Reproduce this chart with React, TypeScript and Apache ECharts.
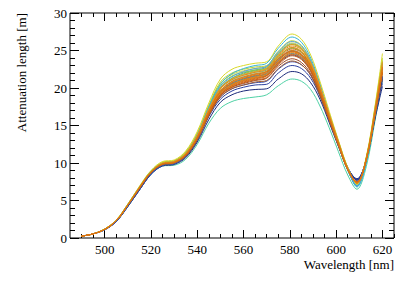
import React, { useEffect, useRef } from "react";
import * as echarts from "echarts";

const wavelengths = [490, 495, 500, 505, 510, 515, 520, 525, 530, 535, 540, 545, 550, 555, 560, 565, 570, 575, 581, 585, 589, 593, 597, 601, 605, 609, 613, 617, 620];

const xMajorTicks = [500, 520, 540, 560, 580, 600, 620];
const xMinorTicks = [490, 495, 505, 510, 515, 525, 530, 535, 545, 550, 555, 565, 570, 575, 585, 590, 595, 605, 610, 615, 625];

const seriesColors = [
  "#4fd1a5", "#1c2a7a", "#2c3f9e", "#3a53b8", "#9c4a25", "#a05a2c", "#22318a", "#2a3f96",
  "#3b8fd0", "#45c4a8", "#2fa8c8", "#8ccc4a", "#c6d640", "#b8d23a", "#35b5d5", "#d9d92b", "#5aa0d8", "#7ec850", "#41a9d4",
  "#c95c12", "#d86a10", "#e07b10", "#e8900f", "#e58a1a", "#d4701a", "#e98612", "#e39a22", "#cf6414", "#dc7614",
];

const seriesValues: number[][] = [
  [0.25, 0.55, 1.1, 2.2, 4.2, 6.4, 8.5, 9.6, 9.7, 10.5, 12.5, 15.3, 17.3, 18.2, 18.6, 18.8, 19.1, 20.3, 21.2, 20.9, 19.8, 17.6, 14.7, 11.5, 8.4, 6.5, 9.5, 16.0, 21.0],
  [0.25, 0.55, 1.1, 2.2, 4.2, 6.4, 8.5, 9.6, 9.8, 10.7, 12.8, 15.8, 18.1, 19.1, 19.6, 19.8, 19.9, 21.2, 22.2, 21.9, 20.7, 18.5, 15.4, 12.2, 9.3, 7.9, 10.3, 16.2, 20.2],
  [0.25, 0.55, 1.1, 2.2, 4.2, 6.4, 8.5, 9.7, 9.9, 10.8, 13.0, 16.2, 18.5, 19.6, 20.1, 20.4, 20.5, 22.0, 23.0, 22.6, 21.3, 18.9, 15.6, 12.3, 9.3, 7.8, 10.4, 16.5, 20.6],
  [0.25, 0.55, 1.1, 2.2, 4.3, 6.5, 8.6, 9.7, 9.9, 10.9, 13.1, 16.4, 18.8, 19.9, 20.4, 20.7, 20.9, 22.5, 23.5, 23.1, 21.7, 19.1, 15.8, 12.4, 9.3, 7.7, 10.4, 16.7, 21.0],
  [0.25, 0.55, 1.15, 2.3, 4.4, 6.6, 8.7, 9.8, 10.0, 11.0, 13.2, 16.5, 19.0, 20.1, 20.6, 21.0, 21.3, 22.9, 23.9, 23.4, 21.9, 19.2, 15.8, 12.3, 9.1, 7.4, 10.3, 16.8, 21.5],
  [0.25, 0.55, 1.15, 2.3, 4.4, 6.6, 8.7, 9.8, 10.0, 10.9, 13.1, 16.3, 18.8, 19.9, 20.4, 20.8, 21.0, 22.6, 23.6, 23.1, 21.7, 19.0, 15.7, 12.3, 9.1, 7.5, 10.3, 16.7, 21.2],
  [0.25, 0.55, 1.15, 2.3, 4.4, 6.6, 8.7, 9.8, 10.0, 11.0, 13.3, 16.7, 19.4, 20.6, 21.2, 21.6, 21.9, 23.7, 24.9, 24.4, 22.7, 19.8, 16.2, 12.7, 9.4, 7.7, 10.5, 16.9, 21.6],
  [0.25, 0.55, 1.15, 2.3, 4.4, 6.6, 8.7, 9.8, 10.0, 11.0, 13.2, 16.6, 19.2, 20.4, 21.0, 21.4, 21.7, 23.3, 24.4, 23.9, 22.3, 19.5, 16.0, 12.6, 9.4, 7.8, 10.5, 16.8, 21.3],
  [0.25, 0.55, 1.15, 2.3, 4.4, 6.7, 8.8, 9.9, 10.1, 11.2, 13.6, 17.2, 20.0, 21.3, 22.0, 22.4, 22.8, 24.6, 25.9, 25.3, 23.4, 20.2, 16.4, 12.7, 9.2, 7.0, 10.2, 17.0, 22.8],
  [0.25, 0.55, 1.15, 2.3, 4.4, 6.7, 8.8, 9.9, 10.1, 11.2, 13.6, 17.0, 19.9, 21.1, 21.7, 22.1, 22.4, 24.1, 25.4, 24.8, 23.0, 19.9, 16.2, 12.6, 9.1, 6.9, 10.2, 17.1, 22.6],
  [0.25, 0.55, 1.15, 2.3, 4.4, 6.7, 8.7, 9.8, 10.0, 11.0, 13.3, 16.6, 19.4, 20.6, 21.2, 21.6, 21.9, 23.5, 24.6, 24.1, 22.4, 19.4, 15.9, 12.4, 9.0, 7.0, 10.1, 16.8, 22.0],
  [0.25, 0.55, 1.2, 2.35, 4.5, 6.8, 8.9, 10.0, 10.2, 11.4, 13.8, 17.4, 20.3, 21.6, 22.1, 22.4, 22.7, 24.5, 25.8, 25.2, 23.3, 20.1, 16.4, 12.8, 9.3, 7.2, 10.6, 17.6, 23.6],
  [0.25, 0.55, 1.2, 2.4, 4.5, 6.8, 8.9, 10.1, 10.3, 11.4, 13.9, 17.6, 20.6, 21.8, 22.3, 22.6, 22.9, 24.7, 26.0, 25.4, 23.5, 20.3, 16.5, 12.8, 9.3, 7.2, 10.6, 17.7, 23.8],
  [0.25, 0.55, 1.2, 2.4, 4.5, 6.8, 8.9, 10.1, 10.3, 11.5, 14.0, 17.7, 20.8, 22.0, 22.5, 22.8, 23.0, 24.9, 26.3, 25.7, 23.7, 20.4, 16.6, 12.9, 9.4, 7.2, 10.7, 17.8, 24.0],
  [0.25, 0.55, 1.15, 2.3, 4.4, 6.7, 8.8, 9.9, 10.2, 11.3, 13.8, 17.5, 20.5, 21.9, 22.6, 23.0, 23.3, 25.3, 26.8, 26.1, 24.0, 20.6, 16.6, 12.8, 9.2, 6.8, 10.1, 17.2, 23.2],
  [0.25, 0.55, 1.2, 2.4, 4.5, 6.9, 9.0, 10.2, 10.4, 11.6, 14.2, 18.0, 21.2, 22.5, 23.0, 23.3, 23.5, 25.6, 27.2, 26.5, 24.4, 20.9, 16.9, 13.0, 9.4, 7.1, 10.8, 18.0, 24.6],
  [0.25, 0.55, 1.15, 2.3, 4.4, 6.7, 8.8, 9.9, 10.1, 11.2, 13.7, 17.3, 20.2, 21.5, 22.2, 22.6, 22.9, 24.8, 26.2, 25.6, 23.6, 20.3, 16.4, 12.7, 9.1, 6.9, 10.2, 17.2, 22.9],
  [0.25, 0.55, 1.2, 2.35, 4.5, 6.8, 8.9, 10.0, 10.2, 11.3, 13.7, 17.2, 20.0, 21.3, 21.9, 22.3, 22.6, 24.2, 25.3, 24.8, 23.0, 20.0, 16.3, 12.7, 9.3, 7.3, 10.6, 17.5, 23.4],
  [0.25, 0.55, 1.15, 2.3, 4.4, 6.7, 8.8, 9.9, 10.1, 11.2, 13.5, 16.9, 19.6, 20.9, 21.5, 21.9, 22.2, 23.8, 25.0, 24.5, 22.7, 19.7, 16.1, 12.6, 9.1, 7.0, 10.2, 17.0, 22.4],
  [0.25, 0.55, 1.15, 2.3, 4.4, 6.6, 8.7, 9.8, 10.0, 11.0, 13.2, 16.4, 19.0, 20.1, 20.7, 21.1, 21.4, 23.1, 24.3, 23.8, 22.2, 19.3, 15.8, 12.4, 9.1, 7.4, 10.4, 16.9, 22.0],
  [0.25, 0.55, 1.15, 2.3, 4.4, 6.7, 8.8, 9.9, 10.1, 11.1, 13.3, 16.6, 19.2, 20.3, 20.9, 21.3, 21.7, 23.4, 24.7, 24.2, 22.5, 19.6, 16.0, 12.5, 9.1, 7.4, 10.4, 17.0, 22.2],
  [0.25, 0.55, 1.15, 2.3, 4.4, 6.7, 8.8, 9.9, 10.1, 11.1, 13.4, 16.8, 19.4, 20.5, 21.1, 21.5, 22.0, 23.7, 25.0, 24.5, 22.8, 19.8, 16.2, 12.6, 9.2, 7.4, 10.5, 17.1, 22.5],
  [0.25, 0.55, 1.15, 2.3, 4.4, 6.7, 8.8, 9.9, 10.1, 11.2, 13.5, 17.0, 19.7, 20.9, 21.5, 21.9, 22.3, 24.1, 25.4, 24.9, 23.1, 20.0, 16.3, 12.7, 9.2, 7.3, 10.5, 17.3, 23.0],
  [0.25, 0.55, 1.15, 2.3, 4.4, 6.7, 8.8, 9.9, 10.2, 11.2, 13.6, 17.1, 19.9, 21.1, 21.7, 22.1, 22.5, 24.3, 25.6, 25.1, 23.3, 20.1, 16.4, 12.7, 9.2, 7.3, 10.6, 17.4, 23.3],
  [0.25, 0.55, 1.15, 2.3, 4.4, 6.7, 8.8, 9.9, 10.1, 11.1, 13.4, 16.9, 19.5, 20.7, 21.3, 21.7, 22.1, 23.9, 25.2, 24.7, 22.9, 19.9, 16.2, 12.6, 9.2, 7.3, 10.5, 17.2, 22.7],
  [0.25, 0.55, 1.15, 2.3, 4.4, 6.7, 8.8, 9.9, 10.1, 11.1, 13.3, 16.7, 19.3, 20.4, 21.0, 21.4, 21.8, 23.5, 24.8, 24.3, 22.6, 19.7, 16.1, 12.6, 9.2, 7.4, 10.4, 17.0, 22.3],
  [0.25, 0.55, 1.2, 2.35, 4.45, 6.75, 8.85, 10.0, 10.2, 11.3, 13.7, 17.2, 20.0, 21.2, 21.8, 22.2, 22.6, 24.4, 25.8, 25.3, 23.4, 20.2, 16.5, 12.8, 9.3, 7.3, 10.6, 17.5, 23.5],
  [0.25, 0.55, 1.15, 2.3, 4.4, 6.65, 8.75, 9.85, 10.05, 11.05, 13.3, 16.6, 19.1, 20.2, 20.8, 21.2, 21.6, 23.3, 24.5, 24.0, 22.4, 19.5, 16.0, 12.5, 9.2, 7.5, 10.4, 16.9, 22.1],
  [0.25, 0.55, 1.15, 2.3, 4.4, 6.7, 8.8, 9.9, 10.1, 11.15, 13.45, 16.9, 19.6, 20.8, 21.4, 21.8, 22.2, 23.9, 24.9, 24.4, 22.7, 19.8, 16.2, 12.6, 9.2, 7.4, 10.5, 17.2, 22.8],
];

const FONT = "'Liberation Serif', 'Times New Roman', serif";

export default function App() {
  const ref = useRef<HTMLDivElement>(null);
  useEffect(() => {
    if (!ref.current) return;
    const chart = echarts.init(ref.current, undefined, { renderer: "svg" });
    const xBase = {
      type: "value" as const,
      min: 485,
      max: 625,
      splitLine: { show: false },
      axisLine: { show: false },
    };
    const yBase = {
      type: "value" as const,
      min: 0,
      max: 30,
      interval: 5,
      splitLine: { show: false },
      minorSplitLine: { show: false },
    };
    const tickLine = { color: "#000", width: 1 };
    chart.setOption({
      animation: false,
      grid: { left: 70, top: 13, right: 21, bottom: 43, show: true, borderColor: "#000", borderWidth: 1, backgroundColor: "transparent" },
      xAxis: [
        {
          ...xBase,
          position: "bottom",
          axisTick: { show: true, inside: true, length: 8, lineStyle: tickLine, customValues: xMajorTicks },
          axisLabel: { show: true, customValues: xMajorTicks, fontFamily: FONT, fontSize: 13, color: "#000", margin: 5 },
        },
        {
          ...xBase,
          position: "bottom",
          axisTick: { show: true, inside: true, length: 4, lineStyle: tickLine, customValues: xMinorTicks },
          axisLabel: { show: false },
        },
        {
          ...xBase,
          position: "top",
          axisTick: { show: true, inside: true, length: 8, lineStyle: tickLine, customValues: xMajorTicks },
          axisLabel: { show: false },
        },
        {
          ...xBase,
          position: "top",
          axisTick: { show: true, inside: true, length: 4, lineStyle: tickLine, customValues: xMinorTicks },
          axisLabel: { show: false },
        },
      ],
      yAxis: [
        {
          ...yBase,
          position: "left",
          axisLine: { show: false },
          axisTick: { show: true, inside: true, length: 9, lineStyle: tickLine },
          minorTick: { show: true, splitNumber: 5, length: 5, lineStyle: tickLine },
          axisLabel: { fontFamily: FONT, fontSize: 13, color: "#000", margin: 3 },
        },
        {
          ...yBase,
          position: "right",
          axisLine: { show: false },
          axisTick: { show: true, inside: true, length: 9, lineStyle: tickLine },
          minorTick: { show: true, splitNumber: 5, length: 5, lineStyle: tickLine },
          axisLabel: { show: false },
        },
      ],
      graphic: [
        {
          type: "text",
          x: 394,
          y: 264,
          style: { text: "Wavelength [nm]", fontFamily: FONT, fontSize: 13, fill: "#000", textAlign: "right", textVerticalAlign: "middle" },
        },
        {
          type: "text",
          x: 21,
          y: 13,
          rotation: Math.PI / 2,
          style: { text: "Attenuation length [m]", fontFamily: FONT, fontSize: 13, fill: "#000", textAlign: "right", textVerticalAlign: "middle" },
        },
      ],
      series: seriesValues.map((vals, i) => ({
        type: "line",
        xAxisIndex: 0,
        yAxisIndex: 0,
        data: vals.map((v, j) => [wavelengths[j], v]),
        showSymbol: false,
        symbol: "none",
        smooth: 0.35,
        lineStyle: { width: 1, color: seriesColors[i] },
        silent: true,
      })),
    });
    return () => chart.dispose();
  }, []);
  return <div ref={ref} style={{ width: 415, height: 281, position: "absolute", left: 0, top: 0 }} />;
}
